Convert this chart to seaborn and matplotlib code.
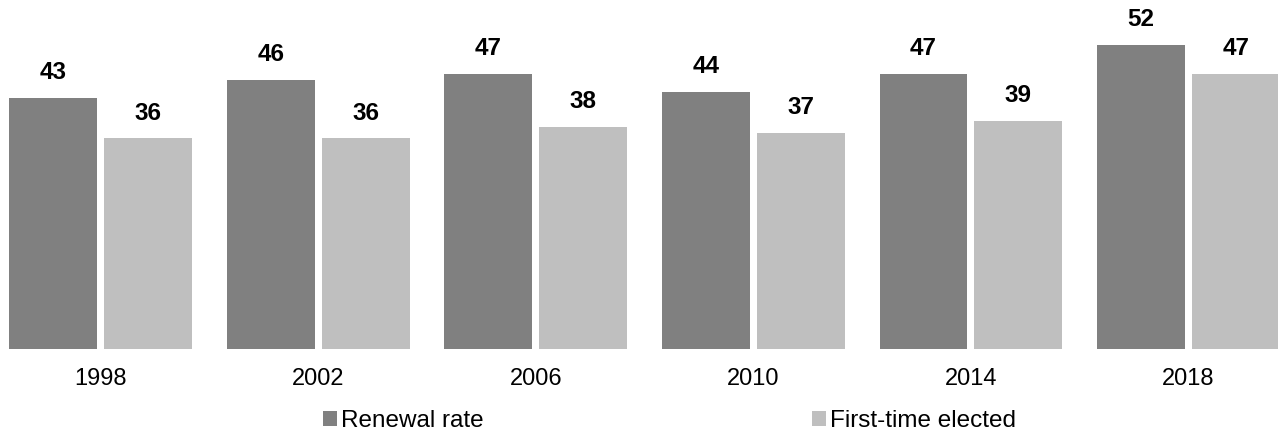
import matplotlib
matplotlib.use("Agg")
import matplotlib.pyplot as plt
import seaborn as sns
import pandas as pd
from matplotlib.patches import Patch

years = ["1998", "2002", "2006", "2010", "2014", "2018"]
renewal_rate = [43, 46, 47, 44, 47, 52]
first_time = [36, 36, 38, 37, 39, 47]
series_names = ["Renewal rate", "First-time elected"]
colors = ["#808080", "#BFBFBF"]

df = pd.DataFrame({
    "year": years * 2,
    "value": renewal_rate + first_time,
    "series": [series_names[0]] * len(years) + [series_names[1]] * len(years),
})

sns.set_theme(style="white")
plt.rcParams["font.family"] = ["Liberation Sans", "DejaVu Sans"]

fig = plt.figure(figsize=(12.78, 4.33), dpi=100)
ax = fig.add_axes([0, 0.1947, 1, 0.8053])

sns.barplot(data=df, x="year", y="value", hue="series", order=years,
            hue_order=series_names, palette=colors, width=0.872, gap=0.073,
            saturation=1, ax=ax, legend=False, edgecolor="none")

for cont in ax.containers:
    ax.bar_label(cont, fmt="%d", padding=10, fontsize=17.5, fontweight="bold",
                 color="black")

ax.set_ylim(0, 59.7)
ax.set_xlim(-0.462, 5.411)
ax.set_xlabel("")
ax.set_ylabel("")
ax.set_yticks([])
for s in ax.spines.values():
    s.set_visible(False)
ax.tick_params(axis="x", length=0, pad=14, labelsize=17, labelcolor="black")

handles = [Patch(facecolor=c, edgecolor="none") for c in colors]
fig.legend(handles, series_names, loc="center", bbox_to_anchor=(0.524, 0.027),
           ncol=2, frameon=False, fontsize=17.5, handlelength=0.58,
           handleheight=0.58, handletextpad=0.17, columnspacing=13.5,
           labelcolor="black")

fig.savefig("out.png", dpi=100)
